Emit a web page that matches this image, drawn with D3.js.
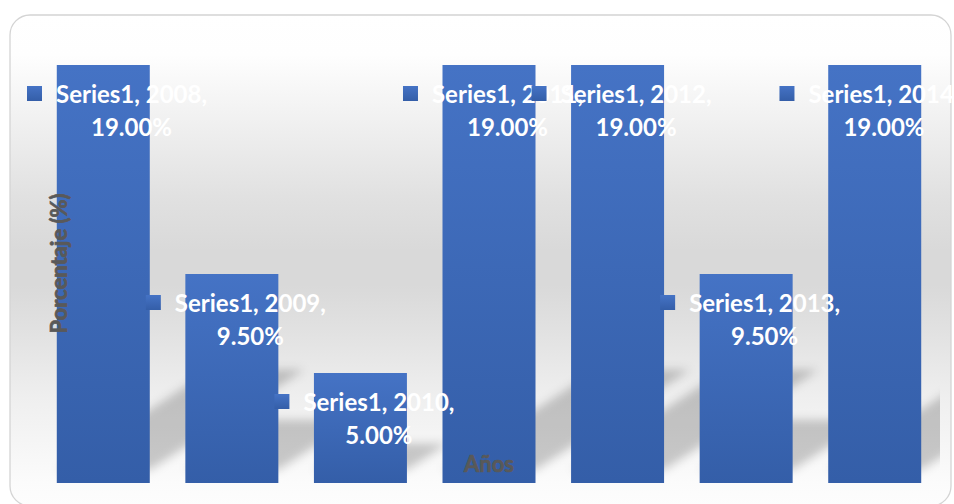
<!DOCTYPE html>
<html><head><meta charset="utf-8">
<script src="https://cdn.jsdelivr.net/npm/d3@7"></script>
<style>html,body{margin:0;padding:0;background:#fff;overflow:hidden}</style>
</head><body><svg id="chart" width="954" height="504"></svg>
<script>
const years = ["2008", "2009", "2010", "2011", "2012", "2013", "2014"];
const values = [19.0, 9.5, 5.0, 19.0, 19.0, 9.5, 19.0];
const seriesName = "Series1";
const yTitle = "Porcentaje (%)";
const xTitle = "Años";
const yDomain = [0, 20];

const W = 954, H = 504;
const plot = {left: 39, right: 940, top: 43, bottom: 483};
const svg = d3.select("#chart");
const defs = svg.append("defs");

// chart background gradient
const bg = defs.append("linearGradient").attr("id", "bgGrad").attr("x1", 0).attr("y1", 0).attr("x2", 0).attr("y2", 1);
[[0, "#ffffff"], [0.08, "#fefefe"], [0.17, "#f5f5f5"], [0.27, "#ebebeb"], [0.38, "#e0e0e0"], [0.48, "#d9d9d9"], [0.55, "#d9d9d9"], [0.65, "#e2e2e2"], [0.78, "#efefef"], [0.95, "#fbfbfb"], [1, "#fdfdfd"]]
  .forEach(([o, c]) => bg.append("stop").attr("offset", o).attr("stop-color", c));

const barGrad = defs.append("linearGradient").attr("id", "barGrad").attr("x1", 0).attr("y1", 0).attr("x2", 0).attr("y2", 1);
barGrad.append("stop").attr("offset", 0).attr("stop-color", "#4573c5");
barGrad.append("stop").attr("offset", 1).attr("stop-color", "#345ea8");

const blur = defs.append("filter").attr("id", "shBlur").attr("x", "-50%").attr("y", "-50%").attr("width", "200%").attr("height", "200%");
blur.append("feGaussianBlur").attr("stdDeviation", 5);

defs.append("clipPath").attr("id", "plotClip").append("rect")
  .attr("x", plot.left).attr("y", plot.top).attr("width", plot.right - plot.left).attr("height", plot.bottom - plot.top);

svg.append("rect").attr("x", 10).attr("y", 15).attr("width", 941).attr("height", 491).attr("rx", 20).attr("ry", 20)
  .attr("fill", "url(#bgGrad)").attr("stroke", "#d4d4d4").attr("stroke-width", 1.3);

const x = d3.scaleBand().domain(years).range([plot.left, 939]).paddingInner(0.2767).paddingOuter(0.1383);
const y = d3.scaleLinear().domain(yDomain).range([plot.bottom, plot.top]);

const data = years.map((yr, i) => ({year: yr, value: values[i]}));

// perspective shadows
const slope = 0.65, sy = 0.24, off = 13;
svg.append("g").attr("clip-path", "url(#plotClip)").append("g").attr("filter", "url(#shBlur)")
  .selectAll("path").data(data).join("path")
  .attr("d", d => {
    const x0 = x(d.year), x1 = x0 + x.bandwidth();
    const yb = y(0) - off, h = y(0) - y(d.value);
    const v = h * sy, hx = v / slope;
    return `M${x0},${yb}L${x1},${yb}L${x1 + hx},${yb - v}L${x0 + hx},${yb - v}Z`;
  })
  .attr("fill", "#000").attr("fill-opacity", 0.2);

svg.append("g").selectAll("rect").data(data).join("rect")
  .attr("x", d => x(d.year)).attr("y", d => y(d.value))
  .attr("width", x.bandwidth()).attr("height", d => y(0) - y(d.value))
  .attr("fill", "url(#barGrad)");

// axis titles
svg.append("text").attr("transform", `translate(67,${(plot.top + plot.bottom) / 2 + 0.5})rotate(-90)`)
  .attr("text-anchor", "middle").attr("font-family", "Lato, sans-serif").attr("font-weight", "bold")
  .attr("font-size", 22).attr("fill", "#595959").attr("stroke", "#595959").attr("stroke-width", 0.7).text(yTitle);
svg.append("text").attr("x", 489).attr("y", 472)
  .attr("text-anchor", "middle").attr("font-family", "Lato, sans-serif").attr("font-weight", "bold")
  .attr("font-size", 22).attr("fill", "#595959").attr("stroke", "#595959").attr("stroke-width", 0.7).text(xTitle);

// data labels
const fmt = d3.format(".2f");
data.forEach(d => {
  const g = svg.append("g");
  const top = y(d.value);
  const cxRaw = x(d.year) + x.bandwidth() / 2 + 18.5;
  const t1 = g.append("text").attr("text-anchor", "middle").attr("y", top + 38)
    .attr("font-family", "Lato, sans-serif").attr("font-weight", "bold").attr("font-size", 24).attr("fill", "#ffffff")
    .text(`${seriesName}, ${d.year},`);
  const t2 = g.append("text").attr("text-anchor", "middle").attr("y", top + 71)
    .attr("font-family", "Lato, sans-serif").attr("font-weight", "bold").attr("font-size", 24).attr("fill", "#ffffff")
    .text(`${fmt(d.value)}%`);
  const w1 = t1.node().getComputedTextLength();
  let cx = cxRaw;
  cx = Math.max(cx, 27 + 15 + 14 + w1 / 2);
  cx = Math.min(cx, 959.5 - w1 / 2);
  t1.attr("x", cx); t2.attr("x", cx);
  g.insert("rect", "text").attr("x", cx - w1 / 2 - 14 - 15).attr("y", top + 21).attr("width", 15).attr("height", 15)
    .attr("fill", "url(#barGrad)");
});
</script></body></html>
